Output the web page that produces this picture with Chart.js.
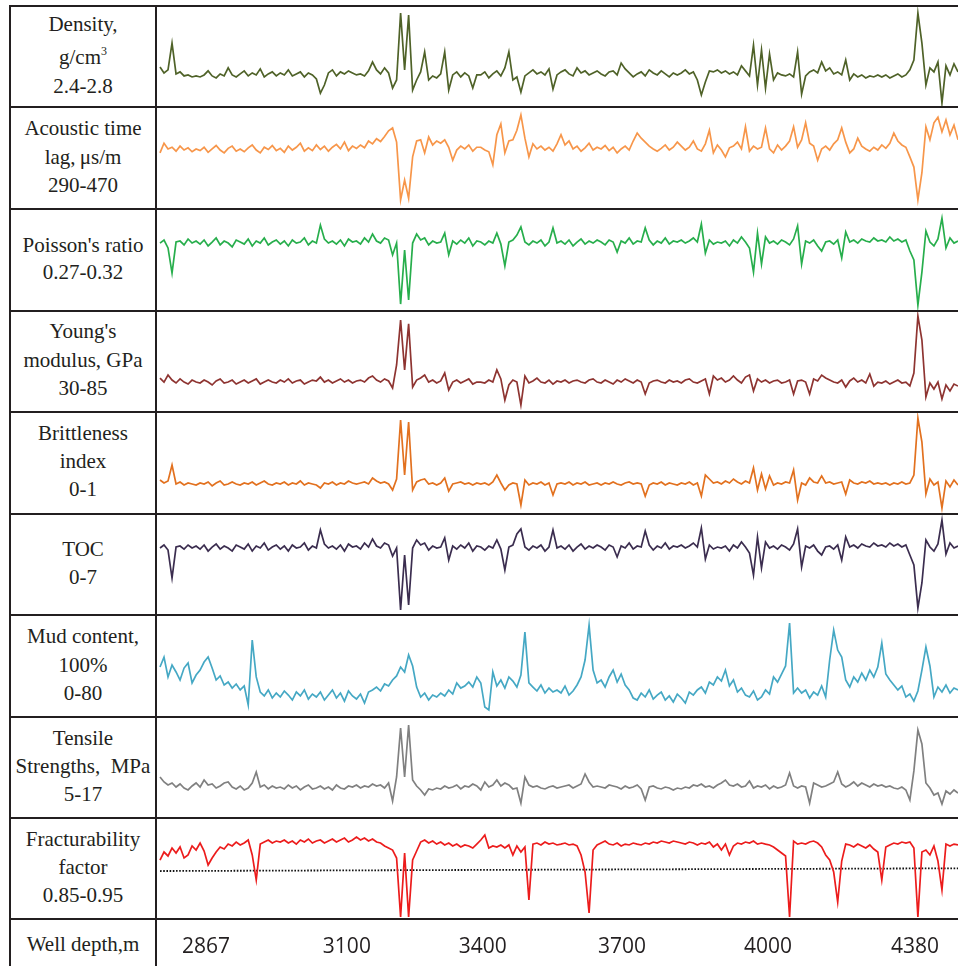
<!DOCTYPE html>
<html><head><meta charset="utf-8">
<script src="https://cdn.jsdelivr.net/npm/chart.js@4.4.1/dist/chart.umd.min.js"></script>
<style>
html,body{margin:0;padding:0;background:#fff;overflow:hidden;}
#wrap{position:relative;width:958px;height:966px;}
.hl{position:absolute;left:9px;width:949px;height:2px;background:#231f20;z-index:5;}
.vl{position:absolute;top:5px;width:2px;height:961px;background:#231f20;z-index:5;}
canvas{position:absolute;}
.lbl{position:absolute;left:11px;width:144px;text-align:center;font-family:'Liberation Serif','DejaVu Serif',serif;font-size:21px;line-height:21px;color:#231f20;white-space:nowrap;}
</style></head>
<body><div id="wrap"></div>
<script>
// ---------- data (sample index 0..199 along well depth) ----------
const density = [
2.558,2.535,2.547,2.653,2.531,2.539,2.523,2.527,2.519,2.523,
2.519,2.527,2.543,2.523,2.515,2.531,2.523,2.555,2.527,2.519,
2.531,2.543,2.523,2.535,2.527,2.551,2.519,2.531,2.539,2.523,
2.535,2.527,2.547,2.523,2.531,2.539,2.519,2.535,2.527,2.511,
2.455,2.487,2.535,2.547,2.523,2.539,2.531,2.543,2.535,2.527,
2.531,2.523,2.543,2.578,2.547,2.531,2.555,2.535,2.475,2.507,
2.772,2.547,2.764,2.467,2.507,2.539,2.618,2.507,2.523,2.515,
2.531,2.618,2.467,2.527,2.539,2.519,2.535,2.523,2.475,2.527,
2.527,2.539,2.515,2.531,2.543,2.523,2.555,2.618,2.507,2.519,
2.459,2.523,2.535,2.547,2.531,2.539,2.527,2.551,2.471,2.527,
2.539,2.547,2.531,2.523,2.555,2.535,2.543,2.527,2.535,2.543,
2.531,2.523,2.539,2.543,2.527,2.574,2.551,2.535,2.519,2.531,
2.539,2.523,2.547,2.535,2.527,2.543,2.531,2.519,2.535,2.527,
2.535,2.547,2.531,2.539,2.507,2.448,2.499,2.543,2.539,2.547,
2.535,2.543,2.531,2.539,2.527,2.563,2.543,2.523,2.645,2.487,
2.626,2.475,2.610,2.507,2.535,2.527,2.523,2.531,2.519,2.618,
2.451,2.523,2.539,2.547,2.535,2.578,2.543,2.555,2.531,2.539,
2.527,2.586,2.507,2.531,2.519,2.527,2.515,2.523,2.519,2.527,
2.519,2.527,2.515,2.523,2.531,2.519,2.527,2.547,2.586,2.772,
2.653,2.487,2.555,2.539,2.578,2.416,2.563,2.527,2.571,2.539];
const acoustic = [
389,406,396,399,392,401,394,398,391,396,
393,399,390,396,402,394,389,397,401,392,
396,391,398,403,394,389,399,395,402,393,
397,390,401,394,399,406,392,398,393,403,
395,401,392,399,404,396,408,393,401,397,
403,398,410,405,414,409,418,428,433,408,
306,341,309,382,410,412,389,417,403,410,
406,412,399,376,394,401,396,403,392,399,
399,394,391,368,421,440,389,410,412,429,
456,415,382,405,396,401,394,399,392,405,
421,403,410,396,401,392,398,406,394,399,
396,402,393,399,389,396,401,394,410,424,
415,408,401,396,392,397,403,394,399,408,
401,394,399,410,396,392,405,429,389,403,
394,382,398,401,408,396,435,392,401,396,
399,433,396,389,403,394,401,410,435,399,
412,442,406,401,376,396,401,394,405,412,
433,408,389,396,415,401,396,392,399,394,
403,397,406,424,410,403,399,382,364,306,
354,435,412,442,452,426,447,421,438,412];
const poisson = [
0.3033,0.3048,0.3009,0.2886,0.3038,0.3043,0.3024,0.3053,0.3033,0.3043,
0.3028,0.3048,0.3019,0.3038,0.3058,0.3024,0.3043,0.3033,0.3014,0.3048,
0.3038,0.3028,0.3053,0.3019,0.3043,0.3033,0.3058,0.3024,0.3038,0.3048,
0.3028,0.3043,0.3019,0.3048,0.3033,0.3038,0.3058,0.3024,0.3043,0.3033,
0.3121,0.3053,0.3033,0.3043,0.3028,0.3048,0.3019,0.3053,0.3038,0.3043,
0.3028,0.3058,0.3038,0.3077,0.3043,0.3033,0.3058,0.3048,0.2975,0.3033,
0.2734,0.2999,0.2754,0.3033,0.3077,0.3048,0.3058,0.3024,0.3043,0.3033,
0.3038,0.3082,0.2975,0.3043,0.3028,0.3048,0.3033,0.3058,0.3019,0.3043,
0.3038,0.3024,0.3043,0.3033,0.3082,0.3028,0.2921,0.3038,0.3048,0.3072,
0.3112,0.3038,0.3024,0.3043,0.3033,0.3048,0.3019,0.3038,0.3107,0.3033,
0.3043,0.3028,0.3048,0.3019,0.3038,0.3053,0.3028,0.3043,0.3033,0.3048,
0.3038,0.3024,0.3048,0.3038,0.2989,0.3043,0.3033,0.3058,0.3028,0.3043,
0.3038,0.3107,0.3048,0.3024,0.3043,0.3033,0.3058,0.3028,0.3043,0.3038,
0.3048,0.3033,0.3043,0.3058,0.3038,0.3126,0.2984,0.3048,0.3028,0.3038,
0.3033,0.3043,0.3019,0.3048,0.3033,0.3063,0.3038,0.3009,0.2891,0.3082,
0.2930,0.3063,0.3033,0.3043,0.3028,0.3048,0.3038,0.3024,0.3053,0.3117,
0.2930,0.3043,0.3033,0.3048,0.3019,0.2994,0.3038,0.3043,0.3028,0.3048,
0.2960,0.3087,0.3038,0.3048,0.3033,0.3053,0.3043,0.3038,0.3058,0.3043,
0.3048,0.3038,0.3063,0.3043,0.3053,0.3038,0.3048,0.2994,0.2950,0.2729,
0.2891,0.3092,0.3038,0.3019,0.3053,0.3155,0.3009,0.3058,0.3033,0.3043];
const youngs = [
48.5,46.3,50.1,47.4,45.8,48.0,46.3,45.2,47.4,46.3,
45.8,47.4,46.3,44.7,46.9,48.0,45.8,46.3,47.4,45.2,
46.3,47.4,45.8,46.9,48.0,45.2,46.3,47.4,46.3,45.8,
47.4,46.3,48.0,45.8,46.9,47.4,45.2,46.3,47.4,46.9,
49.0,46.3,47.4,45.8,46.9,48.0,46.3,47.4,45.8,46.9,
47.4,46.3,48.5,49.6,47.4,46.3,48.0,46.9,43.1,55.6,
80.1,52.9,78.0,43.6,47.4,48.5,50.1,46.3,47.4,45.8,
46.9,51.2,42.0,46.3,47.4,45.8,46.9,48.0,45.2,46.3,
46.3,45.8,47.4,46.3,52.9,48.0,36.5,44.7,47.4,46.3,
33.8,49.6,45.8,46.9,48.5,46.3,45.8,47.4,45.2,46.9,
46.3,47.4,45.8,46.9,47.4,46.3,45.8,47.4,48.0,46.3,
45.8,47.4,46.3,45.2,47.4,46.3,48.0,46.9,45.8,47.4,
46.3,39.8,45.8,46.9,47.4,46.3,45.8,47.4,46.3,46.9,
45.8,47.4,48.0,46.3,45.8,46.9,48.0,39.8,49.6,47.4,
48.5,46.3,47.4,49.6,47.4,45.8,49.0,50.1,41.5,48.0,
46.3,47.4,45.8,46.9,47.4,45.8,46.3,47.4,39.8,46.9,
47.4,46.3,39.8,48.0,46.9,50.1,48.5,47.4,46.3,45.8,
47.4,43.6,46.9,48.5,46.3,47.4,45.8,50.7,44.1,46.3,
45.8,46.9,45.2,46.3,47.4,45.8,46.3,44.2,51.2,82.3,
69.2,38.2,45.8,42.5,46.3,37.1,44.7,41.5,45.2,44.1];
const brittleness = [
0.333,0.304,0.324,0.480,0.294,0.314,0.284,0.304,0.294,0.284,
0.304,0.294,0.314,0.275,0.304,0.324,0.284,0.294,0.314,0.294,
0.284,0.304,0.294,0.314,0.284,0.304,0.324,0.294,0.284,0.304,
0.294,0.314,0.284,0.304,0.294,0.324,0.284,0.304,0.294,0.284,
0.255,0.304,0.294,0.314,0.284,0.304,0.294,0.324,0.304,0.294,
0.304,0.314,0.294,0.353,0.324,0.304,0.314,0.294,0.235,0.343,
0.922,0.382,0.902,0.235,0.314,0.333,0.343,0.294,0.304,0.284,
0.304,0.353,0.225,0.294,0.304,0.314,0.294,0.304,0.284,0.304,
0.294,0.304,0.284,0.314,0.382,0.304,0.235,0.284,0.304,0.294,
0.088,0.333,0.284,0.304,0.294,0.314,0.284,0.304,0.186,0.294,
0.304,0.294,0.314,0.284,0.304,0.294,0.314,0.284,0.294,0.304,
0.284,0.304,0.294,0.314,0.294,0.284,0.304,0.314,0.294,0.304,
0.294,0.176,0.284,0.304,0.294,0.314,0.284,0.304,0.294,0.284,
0.304,0.294,0.314,0.284,0.304,0.176,0.382,0.343,0.304,0.314,
0.294,0.324,0.304,0.343,0.314,0.294,0.324,0.304,0.451,0.235,
0.392,0.245,0.373,0.284,0.304,0.294,0.314,0.304,0.431,0.137,
0.304,0.284,0.353,0.314,0.304,0.373,0.304,0.314,0.294,0.304,
0.314,0.196,0.333,0.304,0.294,0.314,0.304,0.324,0.294,0.304,
0.294,0.304,0.284,0.304,0.294,0.314,0.294,0.304,0.382,0.941,
0.706,0.196,0.343,0.284,0.314,0.059,0.324,0.265,0.333,0.284];
const toc = [
4.64,4.85,4.50,2.56,4.71,4.78,4.57,4.85,4.64,4.78,
4.57,4.85,4.43,4.71,4.92,4.57,4.78,4.64,4.43,4.85,
4.71,4.57,4.92,4.43,4.78,4.64,4.99,4.50,4.71,4.85,
4.57,4.78,4.43,4.85,4.64,4.71,4.99,4.50,4.78,4.64,
5.89,4.92,4.64,4.78,4.57,4.85,4.43,4.92,4.71,4.78,
4.57,4.99,4.71,5.27,4.78,4.64,4.99,4.85,4.08,4.64,
0.35,4.16,0.69,4.64,5.20,4.85,4.99,4.50,4.78,4.64,
4.71,5.34,3.81,4.78,4.57,4.85,4.64,4.99,4.43,4.78,
4.71,4.50,4.78,4.64,5.20,4.57,3.12,4.71,4.85,5.62,
5.96,4.71,4.50,4.78,4.64,4.85,4.43,4.71,5.89,4.64,
4.78,4.57,4.85,4.43,4.71,4.92,4.57,4.78,4.64,4.85,
4.71,4.50,4.85,4.71,4.02,4.78,4.64,4.99,4.57,4.78,
4.71,5.82,4.85,4.50,4.78,4.64,4.99,4.57,4.78,4.71,
4.85,4.64,4.78,4.99,4.71,6.03,3.88,4.85,4.57,4.71,
4.64,4.78,4.43,4.85,4.64,5.06,4.71,4.29,2.77,5.41,
3.26,5.06,4.64,4.78,4.57,4.85,4.71,4.50,4.92,5.96,
3.33,4.78,4.64,4.85,4.43,4.16,4.71,4.78,4.57,4.85,
3.81,5.41,4.71,4.85,4.64,4.92,4.78,4.71,4.99,4.78,
4.85,4.71,4.99,4.78,4.92,4.71,4.85,4.16,3.47,0.49,
2.22,5.20,4.71,4.43,4.92,6.58,4.22,4.99,4.64,4.78];
const mudContent = [
39.2,47.0,31.4,40.8,35.3,29.0,38.4,42.3,26.7,32.9,
36.8,43.1,47.0,38.4,29.0,32.2,25.1,27.4,22.7,25.9,
21.2,24.3,9.4,60.4,31.4,19.6,16.5,21.2,14.9,18.8,
15.7,20.4,17.2,13.3,19.6,16.5,21.2,14.1,18.0,15.7,
19.6,13.3,17.2,21.2,14.9,18.8,12.5,20.4,16.5,14.1,
18.0,11.0,19.6,21.2,23.5,20.4,25.9,24.3,29.0,32.2,
39.2,35.3,48.6,40.0,23.5,15.7,18.8,13.3,17.2,15.7,
18.8,16.5,21.2,18.0,26.7,22.7,24.3,27.4,23.5,31.4,
26.7,7.8,5.5,35.3,24.3,29.0,22.7,31.4,28.2,23.5,
32.9,66.6,26.7,23.5,20.4,25.1,18.8,22.7,19.6,21.2,
18.8,24.3,17.2,20.4,25.1,31.4,44.7,72.1,36.8,26.7,
29.0,23.5,31.4,36.8,27.4,33.7,25.1,21.2,14.9,13.3,
18.8,15.7,21.2,14.1,17.2,19.6,13.3,16.5,11.8,18.0,
14.9,11.0,19.6,17.2,21.2,23.5,18.8,27.4,25.1,31.4,
28.2,36.8,24.3,29.0,19.6,22.7,17.2,15.7,20.4,13.3,
15.7,21.2,18.0,31.4,27.4,33.7,40.0,73.7,18.8,22.7,
18.8,21.2,14.9,19.6,17.2,24.3,15.7,44.7,68.2,52.5,
47.0,29.0,23.5,31.4,27.4,34.5,29.0,36.8,31.4,39.2,
58.0,33.7,29.0,25.1,21.2,24.3,15.7,18.0,12.5,20.4,
36.8,54.9,40.0,15.7,23.5,19.6,25.1,18.8,22.7,21.2];
const tensile = [
9.87,9.28,8.92,9.16,8.68,9.04,8.56,8.33,8.80,9.16,
8.68,9.51,8.92,9.04,8.56,8.80,9.16,9.28,8.68,8.45,
8.80,8.33,8.56,9.16,10.47,8.68,8.92,8.45,8.80,8.56,
8.68,8.45,8.92,8.56,8.80,8.33,8.68,8.92,8.45,8.56,
8.80,8.45,8.68,8.33,8.92,8.56,8.45,8.80,8.68,8.92,
8.56,8.80,8.68,9.04,8.80,8.92,8.56,9.16,7.02,9.87,
15.69,9.87,16.05,9.51,8.80,8.33,7.73,8.45,8.33,8.56,
8.45,8.80,8.56,8.68,8.92,8.45,8.80,8.68,9.04,8.80,
8.33,9.28,8.68,8.92,9.51,8.80,9.16,8.92,8.45,8.56,
6.78,9.87,8.92,8.68,8.80,8.56,8.45,8.68,8.80,8.56,
8.68,8.80,8.92,8.56,8.80,9.04,10.23,9.28,8.68,8.80,
8.68,8.56,8.92,8.80,8.68,8.45,8.80,8.56,8.68,8.92,
8.45,7.14,8.68,8.80,8.56,8.45,8.68,8.56,8.33,8.56,
8.45,8.68,8.56,8.92,8.80,9.04,8.68,8.80,8.56,8.92,
9.16,9.51,8.92,8.80,9.04,8.68,8.80,9.39,8.56,8.80,
8.68,8.92,8.45,8.80,8.56,8.68,8.92,10.35,8.80,8.56,
8.80,8.68,6.78,9.16,8.92,8.68,8.80,9.04,9.28,10.47,
9.04,8.68,8.92,9.28,8.80,9.16,8.92,8.68,9.04,8.80,
8.92,8.68,8.80,8.56,8.45,8.68,8.33,7.14,10.59,15.45,
13.79,9.16,8.56,7.73,7.97,6.66,8.21,7.85,8.33,7.97];
const fracturability = [
0.9084,0.9163,0.9124,0.9203,0.9153,0.9213,0.9104,0.9134,0.9223,0.9183,
0.9252,0.9173,0.9035,0.9104,0.9163,0.9213,0.9193,0.9242,0.9223,0.9262,
0.9233,0.9252,0.9282,0.9134,0.8886,0.9242,0.9262,0.9282,0.9252,0.9272,
0.9262,0.9282,0.9252,0.9272,0.9242,0.9282,0.9262,0.9292,0.9252,0.9272,
0.9282,0.9252,0.9272,0.9292,0.9262,0.9282,0.9301,0.9262,0.9282,0.9311,
0.9282,0.9301,0.9272,0.9292,0.9262,0.9252,0.9223,0.9203,0.9183,0.9104,
0.8520,0.9153,0.8520,0.9084,0.9173,0.9262,0.9282,0.9252,0.9272,0.9242,
0.9262,0.9233,0.9252,0.9223,0.9242,0.9213,0.9233,0.9223,0.9203,0.9242,
0.9282,0.9331,0.9203,0.9223,0.9213,0.9233,0.9203,0.9233,0.9134,0.9223,
0.9163,0.9213,0.8688,0.9242,0.9252,0.9233,0.9262,0.9242,0.9252,0.9233,
0.9242,0.9252,0.9233,0.9242,0.9223,0.9134,0.8965,0.8560,0.9183,0.9233,
0.9252,0.9272,0.9242,0.9233,0.9252,0.9223,0.9242,0.9233,0.9252,0.9242,
0.9233,0.9252,0.9242,0.9262,0.9252,0.9272,0.9262,0.9252,0.9272,0.9262,
0.9252,0.9242,0.9262,0.9252,0.9233,0.9252,0.9242,0.9262,0.9213,0.9242,
0.9183,0.9242,0.9134,0.9223,0.9252,0.9242,0.9262,0.9252,0.9272,0.9242,
0.9252,0.9242,0.9233,0.9213,0.9183,0.9153,0.9124,0.8520,0.9272,0.9242,
0.9252,0.9242,0.9262,0.9272,0.9252,0.9213,0.9134,0.9084,0.8965,0.8668,
0.9074,0.9242,0.9233,0.9213,0.9242,0.9223,0.9203,0.9233,0.9193,0.9163,
0.8886,0.9213,0.9233,0.9252,0.9242,0.9262,0.9252,0.9262,0.9203,0.8520,
0.9163,0.9183,0.9134,0.9223,0.9074,0.8787,0.9242,0.9223,0.9242,0.9233];
const fracThreshold = [0.8975, 0.9002];           // dotted reference line, start/end
const depthTickLabels = ['2867','3100','3400','3700','4000','4380'];
const depthTickIndex  = [11.5, 46.6, 80.5, 115.2, 151.6, 188.3];
const rowLabels = [
  ['Density,', 'g/cm<span style="font-size:12px;position:relative;top:-9px">3</span>', '2.4-2.8'],
  ['Acoustic time', 'lag,\u2009\u03bcs/m', '290-470'],
  ["Poisson's ratio", '0.27-0.32'],
  ["Young's", 'modulus, GPa', '30-85'],
  ['Brittleness', 'index', '0-1'],
  ['TOC', '0-7'],
  ['Mud content,', '100%', '0-80'],
  ['Tensile', 'Strengths,&nbsp; MPa', '5-17'],
  ['Fracturability', 'factor', '0.85-0.95'],
  ['Well depth,m']
];
const panelRanges = [[2.4,2.8],[290,470],[0.27,0.32],[30,85],[0,1],[0,7],[0,80],[5,17],[0.85,0.95]];

// ---------- layout ----------
const N = density.length;
const wrap = document.getElementById('wrap');
const lineY = [5,106,208,310,411,513,614,716,817,918];
lineY.forEach(y => { const d = document.createElement('div'); d.className='hl'; d.style.top=y+'px'; wrap.appendChild(d); });
[9,155].forEach(x => { const d = document.createElement('div'); d.className='vl'; d.style.left=x+'px'; wrap.appendChild(d); });

const baselines = [[31.7,65,93.3],[136,165,193],[252.7,280],[339,368,396],[440.7,469,496.7],[557,585],[644,673,700.7],[746,774,801.7],[846.7,875,903],[951.7]];
rowLabels.forEach((lines, r) => {
  lines.forEach((t, k) => {
    const d = document.createElement('div'); d.className='lbl';
    d.style.top = (baselines[r][k] - 17.6) + 'px';
    d.innerHTML = t; wrap.appendChild(d);
  });
});

const series = [density, acoustic, poisson, youngs, brittleness, toc, mudContent, tensile, fracturability];
const colors = ['#4f6228','#f7964a','#27ae4c','#8e3431','#e2711f','#3b2d4f','#45a8c4','#808080','#ec1c1c'];
const pts = arr => arr.map((v,i)=>({x:i,y:v}));

function addCanvas(top, h){
  const c = document.createElement('canvas');
  c.width = 802; c.height = h; c.style.left='156px'; c.style.top=top+'px';
  wrap.appendChild(c); return c;
}
const baseOpts = (ymin,ymax) => ({
  responsive:false, animation:false, devicePixelRatio:1, events:[],
  layout:{padding:{left:4,right:0,top:0,bottom:0}},
  plugins:{legend:{display:false}, tooltip:{enabled:false}},
  elements:{point:{radius:0}, line:{tension:0}},
  scales:{ x:{type:'linear', min:0, max:N-1, display:false}, y:{min:ymin, max:ymax, display:false} }
});

series.forEach((s, k) => {
  const top = lineY[k] + 1, h = lineY[k+1] - lineY[k];
  const ds = [{data:pts(s), borderColor:colors[k], borderWidth:1.7, clip:false}];
  if (k === 8) ds.push({data:[{x:0,y:fracThreshold[0]},{x:N-1,y:fracThreshold[1]}], borderColor:'#111', borderWidth:1.8, borderDash:[1.6,1.6], clip:false});
  new Chart(addCanvas(top, h), {type:'line', data:{datasets:ds}, options:baseOpts(panelRanges[k][0], panelRanges[k][1])});
});

// depth axis row (transparent canvas, tall enough that the axis box is not capped)
const axOpts = baseOpts(0,1);
axOpts.layout.padding.bottom = 6;
axOpts.scales.x = {
  type:'linear', min:0, max:N-1, position:'bottom', display:true,
  grid:{display:false, drawTicks:false}, border:{display:false},
  afterBuildTicks: ax => { ax.ticks = depthTickIndex.map(v => ({value:v})); },
  ticks:{ autoSkip:false, maxRotation:0, minRotation:0, padding:0, color:'#231f20',
          font:{family:"'Open Sans', sans-serif", size:21},
          callback:(v,i)=>depthTickLabels[i] }
};
new Chart(addCanvas(880, 86), {type:'line', data:{datasets:[]}, options:axOpts});
</script>
</body></html>
